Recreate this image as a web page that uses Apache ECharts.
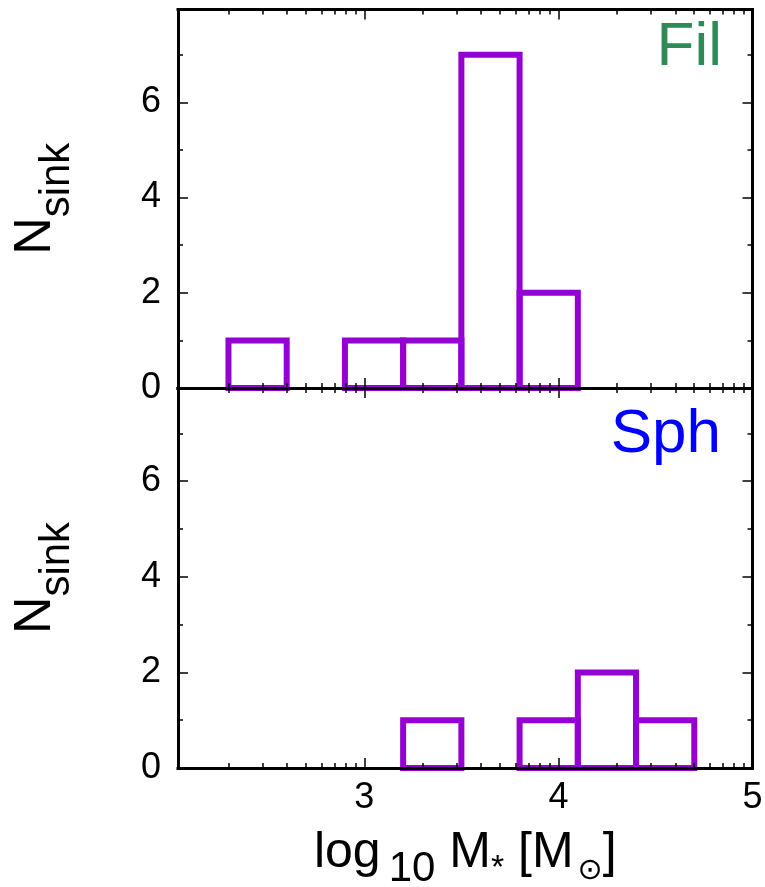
<!DOCTYPE html>
<html>
<head>
<meta charset="utf-8">
<script src="https://cdn.jsdelivr.net/npm/echarts@6/dist/echarts.min.js"></script>
<style>
  html, body { margin: 0; padding: 0; background: #fff; }
  #chart { width: 765px; height: 887px; }
</style>
</head>
<body>
<div id="chart"></div>
<script>
// Histogram bins of log10 sink mass (left edges, common width)
const binLeft = [2.3, 2.6, 2.9, 3.2, 3.5, 3.8, 4.1, 4.4];
const binWidth = 0.3;
// Sink counts per bin for the two runs
const filCounts = [1, 0, 1, 1, 7, 2, 0, 0];
const sphCounts = [0, 0, 0, 1, 0, 1, 2, 1];

// Axis ticks
const xMajorTicks = [3, 4, 5];
const xMinorMasses = [200, 300, 400, 500, 600, 700, 800, 900,
                      2000, 3000, 4000, 5000, 6000, 7000, 8000, 9000,
                      20000, 30000, 40000, 50000, 60000, 70000, 80000, 90000];
const xMinorTicks = xMinorMasses.map(m => Math.log10(m));
const yMajorTicks = [0, 2, 4, 6];
const yMinorTicks = [1, 3, 5, 7];

const xMin = 2.04, xMax = 5, yMax = 7.95;
const FONT = 'Liberation Sans';
const PURPLE = '#9400D3';

const chart = echarts.init(document.getElementById('chart'), null, { renderer: 'canvas' });

const frameLine = { show: true, onZero: false, lineStyle: { color: '#000', width: 3, cap: 'square' } };
const noLine = { show: false, onZero: false };

function xAxisDef(grid, position, ticks, len, opts) {
  opts = opts || {};
  return Object.assign({
    type: 'value', gridIndex: grid, position: position, min: xMin, max: xMax, z: 5,
    axisLine: opts.line ? frameLine : noLine,
    splitLine: { show: false },
    axisTick: { show: true, inside: true, length: len, customValues: ticks,
                lineStyle: { color: '#000', width: 1.5 } },
    axisLabel: opts.labels ? { show: true, customValues: opts.labels, color: '#000',
                fontFamily: FONT, fontSize: 36, margin: 12 } : { show: false }
  }, opts.extra || {});
}

function yAxisDef(grid, position, ticks, len, opts) {
  opts = opts || {};
  return Object.assign({
    type: 'value', gridIndex: grid, position: position, min: 0, max: yMax, z: 5,
    axisLine: opts.line ? frameLine : noLine,
    splitLine: { show: false },
    axisTick: { show: true, inside: true, length: len, customValues: ticks,
                lineStyle: { color: '#000', width: 1.5 } },
    axisLabel: opts.labels ? { show: true, customValues: opts.labels, color: '#000',
                fontFamily: FONT, fontSize: 36, margin: 17 } : { show: false }
  }, opts.extra || {});
}

// main glyphs hang from the top of the line box, subscripts sit on its bottom
const yName = {
  name: '{n|N}{s|sink}',
  nameLocation: 'middle',
  nameRotate: 90,
  nameGap: 100,
  nameTextStyle: {
    rich: {
      n: { fontFamily: FONT, fontSize: 52, lineHeight: 52, color: '#000', verticalAlign: 'top' },
      s: { fontFamily: FONT, fontSize: 42, lineHeight: 68, color: '#000', verticalAlign: 'bottom' }
    }
  }
};

const xName = {
  name: '{a|log}{b|10}{a| M}{c|*}{a| [M}{d|\u2299}{a|]}',
  nameLocation: 'middle',
  nameGap: 60,
  nameTextStyle: {
    rich: {
      a: { fontFamily: FONT, fontSize: 50, lineHeight: 50, color: '#000', verticalAlign: 'top' },
      b: { fontFamily: FONT, fontSize: 42, lineHeight: 62, color: '#000', verticalAlign: 'bottom',
           padding: [0, 0, 0, 8] },
      c: { fontFamily: FONT, fontSize: 34, lineHeight: 62, color: '#000', verticalAlign: 'bottom',
           padding: [0, 0, 4, 0] },
      d: { fontFamily: 'DejaVu Sans', fontSize: 30, lineHeight: 62, color: '#000', verticalAlign: 'bottom',
           padding: [0, 0, 4, 4] }
    }
  }
};

function histSeries(counts, axisIndex) {
  const data = [];
  binLeft.forEach((x0, i) => {
    if (counts[i] > 0) data.push([x0, x0 + binWidth, counts[i]]);
  });
  return {
    type: 'custom',
    xAxisIndex: axisIndex * 4,
    yAxisIndex: axisIndex * 4,
    z: 1,
    silent: true,
    data: data,
    encode: { x: [0, 1], y: 2 },
    renderItem: function (params, api) {
      const p0 = api.coord([api.value(0), 0]);
      const p1 = api.coord([api.value(1), api.value(2)]);
      return {
        type: 'rect',
        shape: { x: p0[0], y: p1[1], width: p1[0] - p0[0], height: p0[1] - p1[1] },
        style: { fill: 'none', stroke: PURPLE, lineWidth: 6, lineJoin: 'miter' }
      };
    }
  };
}

const option = {
  backgroundColor: '#fff',
  animation: false,
  grid: [
    { left: 178, right: 12.5, top: 9.5, height: 378.5, containLabel: false, outerBoundsMode: 'none' },
    { left: 178, right: 12.5, top: 388, height: 380, containLabel: false, outerBoundsMode: 'none' }
  ],
  xAxis: [
    // upper panel
    xAxisDef(0, 'bottom', xMajorTicks, 10, { line: true }),
    xAxisDef(0, 'bottom', xMinorTicks, 5),
    xAxisDef(0, 'top', xMajorTicks, 10, { line: true }),
    xAxisDef(0, 'top', xMinorTicks, 5),
    // lower panel
    xAxisDef(1, 'bottom', xMajorTicks, 10, { line: true, labels: xMajorTicks, extra: xName }),
    xAxisDef(1, 'bottom', xMinorTicks, 5),
    xAxisDef(1, 'top', xMajorTicks, 10, { line: true }),
    xAxisDef(1, 'top', xMinorTicks, 5)
  ],
  yAxis: [
    yAxisDef(0, 'left', yMajorTicks, 10, { line: true, labels: yMajorTicks, extra: yName }),
    yAxisDef(0, 'left', yMinorTicks, 5),
    yAxisDef(0, 'right', yMajorTicks, 10, { line: true }),
    yAxisDef(0, 'right', yMinorTicks, 5),
    yAxisDef(1, 'left', yMajorTicks, 10, { line: true, labels: yMajorTicks, extra: yName }),
    yAxisDef(1, 'left', yMinorTicks, 5),
    yAxisDef(1, 'right', yMajorTicks, 10, { line: true }),
    yAxisDef(1, 'right', yMinorTicks, 5)
  ],
  graphic: [
    { type: 'text', x: 722, y: 48, z: 10,
      style: { text: 'Fil', fill: '#2E8B57', font: '62px "Liberation Sans"', align: 'right', verticalAlign: 'middle' } },
    { type: 'text', x: 721, y: 435, z: 10,
      style: { text: 'Sph', fill: '#0000FF', font: '62px "Liberation Sans"', align: 'right', verticalAlign: 'middle' } }
  ],
  series: [
    histSeries(filCounts, 0),
    histSeries(sphCounts, 1)
  ]
};

chart.setOption(option);
</script>
</body>
</html>
